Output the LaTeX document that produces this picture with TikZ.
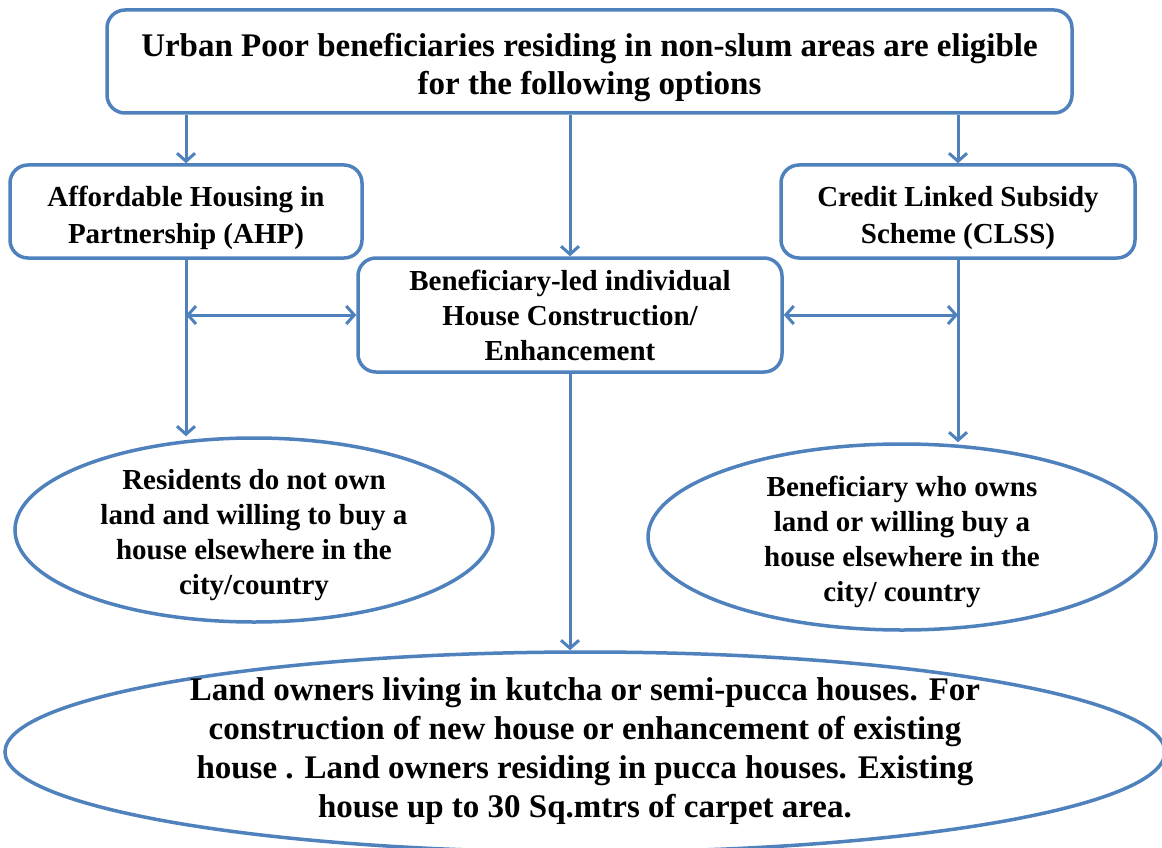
\documentclass[tikz,border=0pt]{standalone}
\usepackage{fontspec}
\setmainfont{Liberation Serif}
\usetikzlibrary{shapes.geometric,arrows.meta}
\definecolor{lineblue}{HTML}{4F81BD}
\tikzset{
  box/.style={draw=lineblue, line width=3.5pt, rounded corners=18pt, fill=white, align=center, font=\bfseries},
  oval/.style={draw=lineblue, line width=3.5pt, ellipse, fill=white, inner sep=0pt},
  ovaltext/.style={align=center, inner sep=0pt, font=\bfseries\fontsize{29}{35}\selectfont},
  conn/.style={draw=lineblue, line width=3pt, -{Straight Barb[length=8pt,width=18pt]}},
  dconn/.style={draw=lineblue, line width=3pt, {Straight Barb[length=8pt,width=18pt]}-{Straight Barb[length=8pt,width=18pt]}}
}
\begin{document}
\begin{tikzpicture}[x=1pt,y=-1pt]
\useasboundingbox[fill=white] (0,0) rectangle (1162,848);
\node[box, minimum width=965pt, minimum height=103pt, font=\bfseries\fontsize{33}{38}\selectfont] (top) at (589.5,61.5)
  {\rule{0pt}{36pt}Urban Poor beneficiaries residing in non-slum areas are eligible\\for the following options};
\node[box, minimum width=352pt, minimum height=93pt, font=\bfseries\fontsize{29}{37}\selectfont] (ahp) at (186,211.5)
  {\rule{0pt}{34pt}Affordable Housing in\\Partnership (AHP)};
\node[box, minimum width=354pt, minimum height=93pt, font=\bfseries\fontsize{29}{37}\selectfont] (clss) at (958,211.5)
  {\rule{0pt}{34pt}Credit Linked Subsidy\\Scheme (CLSS)};
\node[box, minimum width=424pt, minimum height=114pt, font=\bfseries\fontsize{29}{35}\selectfont] (blc) at (570,315)
  {Beneficiary-led individual\\House Construction/\\Enhancement};
\node[oval, minimum width=478pt, minimum height=184pt] (lell) at (254,530) {};
\node[ovaltext] (ltext) at (254,535)
  {Residents do not own\\land and willing to buy a\\house elsewhere in the\\city/country};
\node[oval, minimum width=508pt, minimum height=186pt] (rell) at (902,537) {};
\node[ovaltext] (rtext) at (902,542)
  {Beneficiary who owns\\land or willing buy a\\house elsewhere in the\\city/ country};
\node[oval, minimum width=1160pt, minimum height=200pt] (bell) at (585,752) {};
\node[align=center, font=\bfseries\fontsize{33}{39}\selectfont] (btext) at (585,751)
  {Land owners living in kutcha or semi-pucca houses. For\\construction of new house or enhancement of existing\\house . Land owners residing in pucca houses. Existing\\house up to 30 Sq.mtrs of carpet area.};
\draw[conn] (top.south -| ahp.north) -- (ahp.north);
\draw[conn] (top.south -| blc.north) -- (blc.north);
\draw[conn] (top.south -| clss.north) -- (clss.north);
\draw[conn] (ahp.south) -- (ahp.south |- lell.north);
\draw[conn] (clss.south) -- (clss.south |- rell.north);
\draw[conn] (blc.south) -- (blc.south |- bell.north);
\draw[dconn] (blc.west -| ahp.south) -- (blc.west);
\draw[dconn] (blc.east) -- (blc.east -| clss.south);
\end{tikzpicture}
\end{document}
